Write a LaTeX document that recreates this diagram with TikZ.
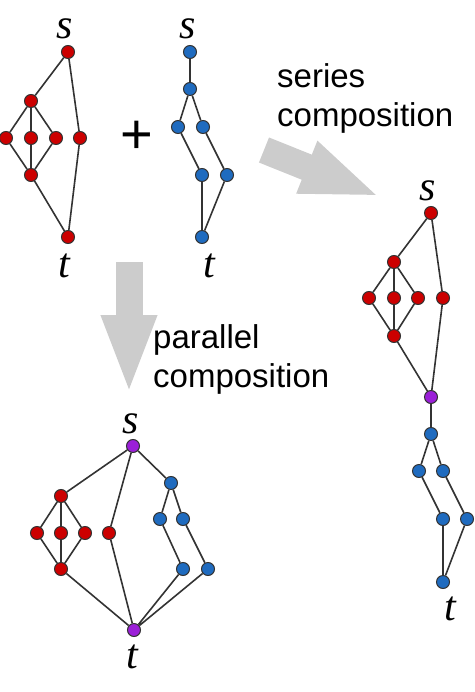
\documentclass[tikz,border=0pt]{standalone}
\usepackage{fontspec}
\setmainfont{Liberation Serif}
\setsansfont{Liberation Sans}
\usepackage{xcolor}
\usepackage{tikz}
\usetikzlibrary{arrows.meta, positioning}
\definecolor{vred}{HTML}{CC0000}
\definecolor{vblue}{HTML}{1F6BBF}
\definecolor{vpurple}{HTML}{9B1FD8}
\definecolor{arrowgray}{HTML}{CCCCCC}

\begin{document}
\begin{tikzpicture}[x=1pt,
			y=-1pt,
			vtx/.style={circle, draw=black!80, line width=1pt, inner sep=0pt, minimum size=13pt},
			rv/.style={vtx, fill=vred},
			bv/.style={vtx, fill=vblue},
			pv/.style={vtx, fill=vpurple},
			link/.style={draw=black!80, line width=1.6pt},
			lbl/.style={font=\fontsize{42}{42}\selectfont\itshape, inner sep=0pt},
			caption/.style={font=\fontsize{33}{39}\selectfont\sffamily, align=left, inner sep=0pt, anchor=base west},
			bigarrow/.style={draw=arrowgray, line width=27pt, -{Triangle[width=50pt,length=80pt]}}]
			
			\useasboundingbox (0,0) rectangle (474,692);
			
			\node[rv] (rs) at (68,52) {};
			\node[rv] (ra) at (31,101) {};
			\node[rv] (r1) at (6,138) {};
			\node[rv] (r2) at (31,138) {};
			\node[rv] (r3) at (56,138) {};
			\node[rv] (r4) at (80,138) {};
			\node[rv] (rc) at (31,175) {};
			\node[rv] (rt) at (68,237) {};
			\node[lbl] (rslbl) at (65,29) {s};
			\node[lbl] (rtlbl) at (64,266) {t};
			\draw[link] (rs) -- (ra) (rs) -- (r4) (ra) -- (r1) (ra) -- (r2) (ra) -- (r3);
			\draw[link] (r1) -- (rc) (r2) -- (rc) (r3) -- (rc) (rc) -- (rt) (r4) -- (rt);
			
			\node[font=\fontsize{56}{56}\selectfont\sffamily, inner sep=0pt] (plus) at (137,137) {+};
			
			\node[bv] (bs) at (190,52) {};
			\node[bv] (bb) at (190,89) {};
			\node[bv] (b1) at (178,127) {};
			\node[bv] (b2) at (203,127) {};
			\node[bv] (b3) at (202,175) {};
			\node[bv] (b4) at (227,175) {};
			\node[bv] (bt) at (202,237) {};
			\node[lbl] (bslbl) at (188,29) {s};
			\node[lbl] (btlbl) at (209,266) {t};
			\draw[link] (bs) -- (bb) (bb) -- (b1) (bb) -- (b2) (b1) -- (b3) (b2) -- (b4) (b3) -- (bt) (b4) -- (bt);
			
			\coordinate (sertail) at (264,150);
			\coordinate (serhead) at (381,197);
			\draw[bigarrow] (sertail) -- (serhead);
			\node[caption] (sertext) at (277,127) {series\\composition};
			
			\coordinate (partail) at (129,262);
			\coordinate (parhead) at (129,395);
			\draw[bigarrow] (partail) -- (parhead);
			\node[caption] (partext) at (153,387) {parallel\\composition};
			
			\node[rv] (ss) at (431,213) {};
			\node[rv] (sa) at (394,262) {};
			\node[rv] (s1) at (369,298) {};
			\node[rv] (s2) at (394,298) {};
			\node[rv] (s3) at (418,298) {};
			\node[rv] (s4) at (443,298) {};
			\node[rv] (sc) at (394,336) {};
			\node[pv] (sm) at (431,397) {};
			\node[bv] (sb) at (431,434) {};
			\node[bv] (s5) at (419,471) {};
			\node[bv] (s6) at (443,471) {};
			\node[bv] (s7) at (443,519) {};
			\node[bv] (s8) at (467,519) {};
			\node[bv] (st) at (443,582) {};
			\node[lbl] (sslbl) at (428,191) {s};
			\node[lbl] (stlbl) at (450,609) {t};
			\draw[link] (ss) -- (sa) (ss) -- (s4) (sa) -- (s1) (sa) -- (s2) (sa) -- (s3);
			\draw[link] (s1) -- (sc) (s2) -- (sc) (s3) -- (sc) (sc) -- (sm) (s4) -- (sm);
			\draw[link] (sm) -- (sb) (sb) -- (s5) (sb) -- (s6) (s5) -- (s7) (s6) -- (s8) (s7) -- (st) (s8) -- (st);
			
			\node[pv] (ps) at (133,446) {};
			\node[rv] (pa) at (61,496) {};
			\node[rv] (p1) at (37,533) {};
			\node[rv] (p2) at (61,533) {};
			\node[rv] (p3) at (85,533) {};
			\node[rv] (p4) at (109,533) {};
			\node[rv] (pc) at (61,569) {};
			\node[pv] (pt) at (134,630) {};
			\node[bv] (pb) at (171,483) {};
			\node[bv] (p5) at (160,519) {};
			\node[bv] (p6) at (183,519) {};
			\node[bv] (p7) at (183,569) {};
			\node[bv] (p8) at (208,569) {};
			\node[lbl] (pslbl) at (131,424) {s};
			\node[lbl] (ptlbl) at (132,657) {t};
			\draw[link] (ps) -- (pa) (ps) -- (p4) (ps) -- (pb) (pa) -- (p1) (pa) -- (p2) (pa) -- (p3);
			\draw[link] (p1) -- (pc) (p2) -- (pc) (p3) -- (pc) (pc) -- (pt) (p4) -- (pt);
			\draw[link] (pb) -- (p5) (pb) -- (p6) (p5) -- (p7) (p6) -- (p8) (p7) -- (pt) (p8) -- (pt);
		\end{tikzpicture}
\end{document}
